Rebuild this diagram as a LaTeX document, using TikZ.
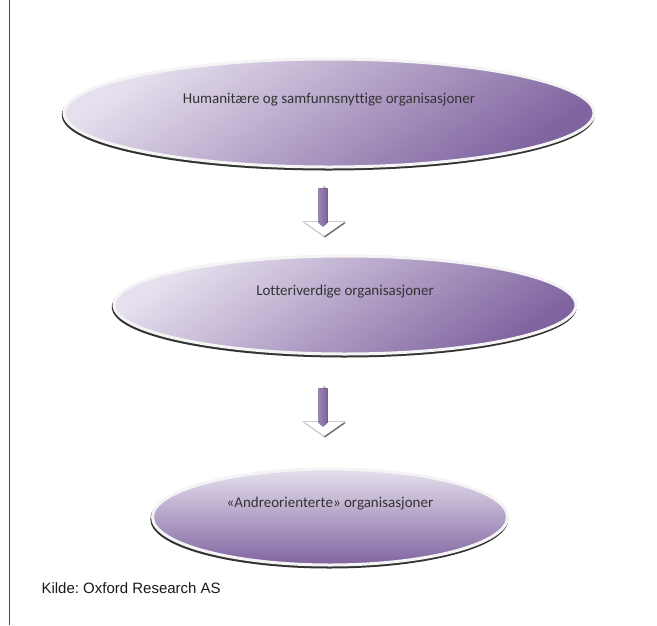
\documentclass[tikz,border=0pt]{standalone}
\usepackage{fontspec}
\setsansfont{Liberation Sans}
\newfontfamily\orgfont[Ligatures=NoCommon]{Carlito}
\usepackage{xcolor}
\usetikzlibrary{shapes.geometric, shapes.arrows, calc}

\definecolor{lilac}{HTML}{E6E0EE}
\definecolor{plum}{HTML}{8064A0}
\definecolor{rim}{HTML}{F4F4F4}
\definecolor{ink}{HTML}{333333}

\begin{document}
\frenchspacing
\begin{tikzpicture}[x=1pt, y=-1pt,
            orgtext/.style = {font=\orgfont\fontsize{15}{18}\selectfont,
                         text=ink, yshift=13pt},
            org/.style = {ellipse, draw=rim, line width=3pt, inner sep=0pt,
                         top color=lilac, bottom color=plum,
                         preaction={draw=black!80, line width=3pt,
                                    transform canvas={xshift=-0.7pt, yshift=-2pt}},
                         node contents={}, label={[orgtext]center:#1}},
            down/.style = {single arrow, rotate=-90, inner sep=0pt,
                         minimum height=50pt, minimum width=42pt,
                         single arrow head extend=12pt, single arrow tip angle=110,
                         draw=black!20, line width=0.6pt, fill=white,
                         preaction={fill=black!65,
                                    transform canvas={xshift=1pt, yshift=-1.2pt}}},
            core/.style = {left color=plum!75!lilac, right color=plum}
        ]
            \useasboundingbox (0,0) rectangle (657,625);
            \draw[black!70, line width=0.8pt] (9,0) -- (9,625);

            \node (e1) at (329,113) [org=Humanitære og samfunnsnyttige organisasjoner,
                                     minimum width=530pt, minimum height=108pt,
                                     shading angle=35];
            \node (e2) at (345,305) [org=Lotteriverdige organisasjoner,
                                     minimum width=462pt, minimum height=98pt,
                                     shading angle=35];
            \node (e3) at (330,517) [org=«Andreorienterte» organisasjoner,
                                     minimum width=355pt, minimum height=96pt];

            %
            \node (a1) at (324,211) [down] {};
            \node (a2) at (324,411) [down] {};
            \foreach \a in {a1, a2}
                \fill[core] ($(\a.tail)+(-5.5,2.5)$) -- ($(\a.tail)+(3.5,2.5)$)
                    -- ($(\a.tip)+(3.5,-14)$) -- ($(\a.tip)+(-1,-10)$)
                    -- ($(\a.tip)+(-5.5,-14)$) -- cycle;

            \node (src) at (38,593) [anchor=base west, text=black!90,
                                     font=\sffamily\fontsize{15}{18}\selectfont]
                {Kilde: Oxford Research AS};
        \end{tikzpicture}
\end{document}
